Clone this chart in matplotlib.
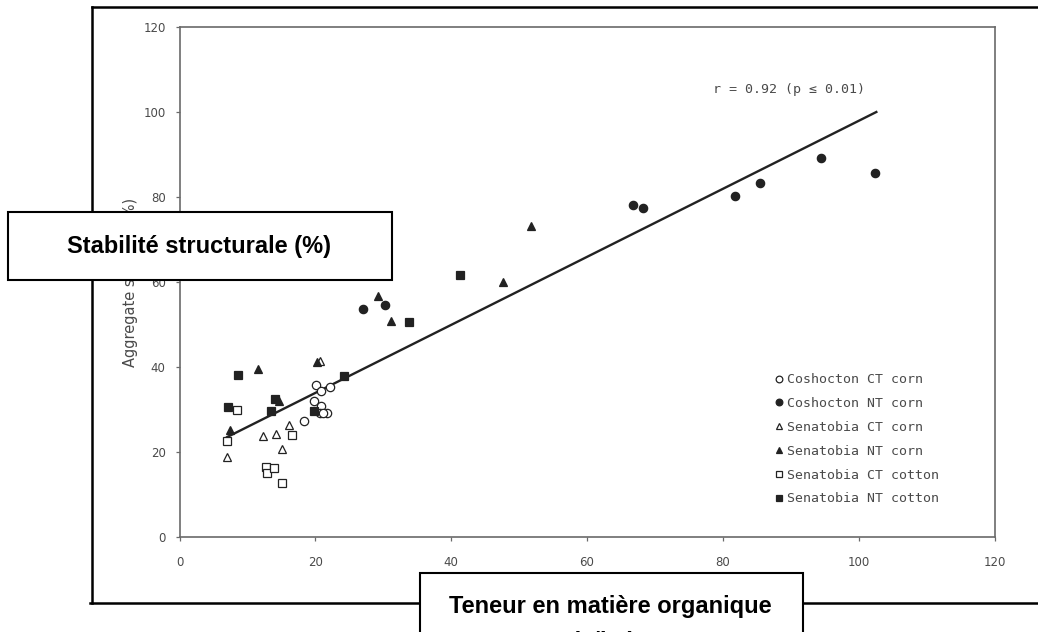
import matplotlib
matplotlib.use("Agg")
import matplotlib.pyplot as plt
from matplotlib.lines import Line2D
from matplotlib.patches import Rectangle

# Organic matter (x) vs aggregate stability (y), one pair of lists per treatment
cosh_ct_corn_x = [20.1, 20.8, 22.1, 19.8, 20.8, 18.3, 21.7, 20.7, 21.1]
cosh_ct_corn_y = [35.7, 34.4, 35.3, 32.0, 30.8, 27.3, 29.1, 29.1, 29.1]

cosh_nt_corn_x = [27.0, 30.2, 66.7, 68.3, 81.8, 85.4, 94.5, 102.4]
cosh_nt_corn_y = [53.6, 54.6, 78.1, 77.4, 80.2, 83.3, 89.2, 85.6]

sena_ct_corn_x = [20.7, 7.0, 12.3, 14.2, 16.1, 15.1]
sena_ct_corn_y = [41.4, 18.9, 23.8, 24.2, 26.4, 20.7]

sena_nt_corn_x = [11.5, 20.2, 7.4, 14.6, 29.2, 31.1, 47.7, 51.8]
sena_nt_corn_y = [39.5, 41.2, 25.1, 32.1, 56.7, 50.9, 60.0, 73.2]

sena_ct_cotton_x = [8.4, 7.0, 16.5, 12.8, 12.9, 13.9, 15.1]
sena_ct_cotton_y = [29.9, 22.5, 24.0, 16.5, 15.1, 16.3, 12.7]

sena_nt_cotton_x = [8.6, 24.2, 7.1, 14.0, 13.4, 19.8, 41.3, 33.8]
sena_nt_cotton_y = [38.1, 37.9, 30.6, 32.5, 29.6, 29.6, 61.6, 50.6]

# regression line end points
fit_x = [7.0, 102.6]
fit_y = [23.5, 100.0]

series_labels = [
    "Coshocton CT corn",
    "Coshocton NT corn",
    "Senatobia CT corn",
    "Senatobia NT corn",
    "Senatobia CT cotton",
    "Senatobia NT cotton",
]

W, H = 1038, 632
INK = "#222222"
AXIS_GREY = "#6a6a6a"
TEXT_GREY = "#4a4a4a"


def fx(px):
    return px / W


def fy(py):
    return 1 - py / H


fig = plt.figure(figsize=(W / 100, H / 100), dpi=100)
fig.patch.set_facecolor("white")

ax = fig.add_axes([fx(179.5), fy(537), (994.5 - 179.5) / W, (537 - 27) / H])

series = [
    (cosh_ct_corn_x, cosh_ct_corn_y, "o", False),
    (cosh_nt_corn_x, cosh_nt_corn_y, "o", True),
    (sena_ct_corn_x, sena_ct_corn_y, "^", False),
    (sena_nt_corn_x, sena_nt_corn_y, "^", True),
    (sena_ct_cotton_x, sena_ct_cotton_y, "s", False),
    (sena_nt_cotton_x, sena_nt_cotton_y, "s", True),
]

for (xs, ys, mk, filled), label in zip(series, series_labels):
    ax.plot(xs, ys, linestyle="none", marker=mk, markersize=6,
            markerfacecolor=INK if filled else "white",
            markeredgecolor=INK, markeredgewidth=0.9, label=label, zorder=3)

ax.plot(fit_x, fit_y, color=INK, linewidth=1.7, zorder=2)

ax.text(89.8, 105.2, "r = 0.92 (p \u2264 0.01)", fontsize=9.5,
        family="DejaVu Sans Mono", color=TEXT_GREY, ha="center", va="center")

ax.set_xlim(0, 120)
ax.set_ylim(0, 120)
ax.set_xticks(range(0, 121, 20))
ax.set_yticks(range(0, 121, 20))
for spine in ax.spines.values():
    spine.set_color(AXIS_GREY)
    spine.set_linewidth(1.2)
ax.tick_params(direction="out", length=3, width=0.9, color=AXIS_GREY,
               labelsize=8.5, labelcolor=TEXT_GREY)
ax.tick_params(axis="y", pad=7)
ax.tick_params(axis="x", pad=11)
for lab in ax.get_xticklabels() + ax.get_yticklabels():
    lab.set_family("DejaVu Sans")

ax.set_ylabel("Aggregate stability (%)", fontsize=10.5, color=TEXT_GREY,
              family="DejaVu Sans", labelpad=4)

leg = ax.legend(loc="upper left", bbox_to_anchor=(0.729, 0.321), frameon=False,
                borderpad=0, borderaxespad=0, handlelength=0.8, handletextpad=0.25,
                labelspacing=0.82, prop={"family": "DejaVu Sans Mono", "size": 9.5},
                markerscale=0.8)
for t in leg.get_texts():
    t.set_color(TEXT_GREY)

# outer frame around the scanned figure
frame_kw = dict(color="black", linewidth=1.8, transform=fig.transFigure)
fig.add_artist(Line2D([fx(92), fx(1038)], [fy(7), fy(7)], **frame_kw))
fig.add_artist(Line2D([fx(92), fx(92)], [fy(7), fy(603)], **frame_kw))
fig.add_artist(Line2D([fx(90), fx(1038)], [fy(603), fy(603)], **frame_kw))

# French axis captions in boxes laid over the figure
fig.add_artist(Rectangle((fx(8), fy(280)), (392 - 8) / W, (280 - 212) / H,
                         transform=fig.transFigure, facecolor="white",
                         edgecolor="black", linewidth=1.5, zorder=5))
fig.text(fx(199), fy(246), "Stabilit\u00e9 structurale (%)", fontsize=17,
         fontweight="bold", family="Liberation Sans", ha="center", va="center",
         zorder=6)

fig.add_artist(Rectangle((fx(420), fy(650)), (803 - 420) / W, (650 - 573) / H,
                         transform=fig.transFigure, facecolor="white",
                         edgecolor="black", linewidth=1.5, zorder=5))
fig.text(fx(610), fy(607), "Teneur en mati\u00e8re organique", fontsize=17,
         fontweight="bold", family="Liberation Sans", ha="center", va="center",
         zorder=6)
fig.text(fx(604), fy(642), "(g/kg)", fontsize=17, fontweight="bold",
         family="Liberation Sans", ha="center", va="center", zorder=6)

fig.savefig("out.png", dpi=100)
